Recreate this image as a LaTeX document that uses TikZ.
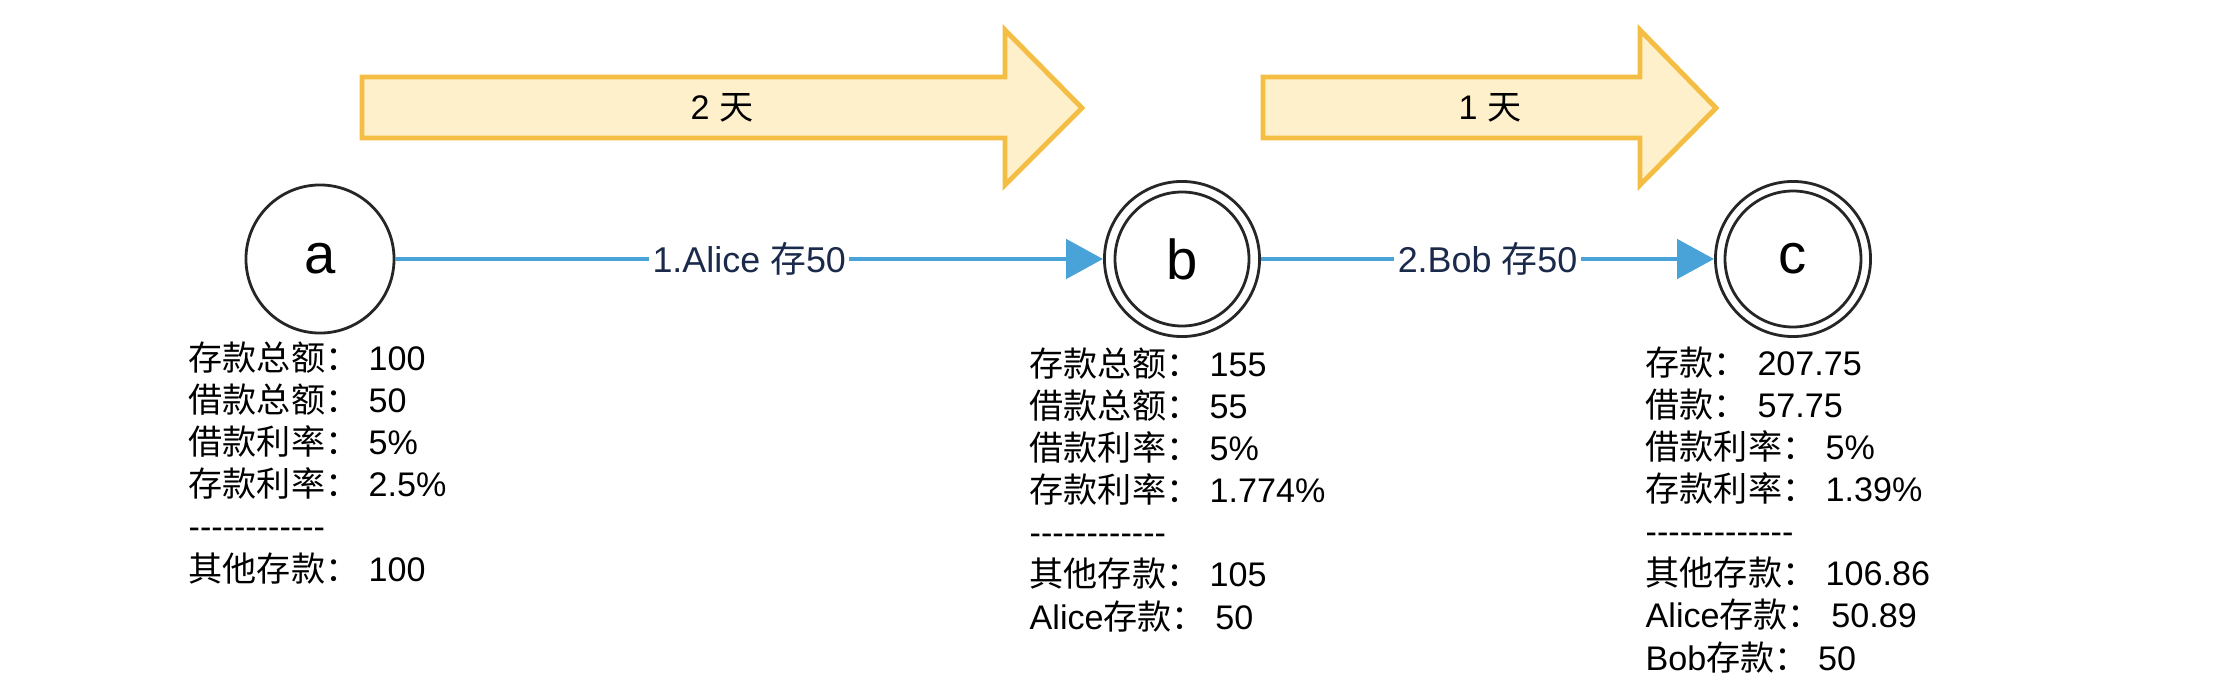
\documentclass[tikz,border=0pt]{standalone}
\usepackage{fontspec}
\setmainfont{Liberation Sans}
\newfontfamily\cjk{Noto Sans CJK SC}
\newcommand\zh[1]{{\cjk #1}}
\usetikzlibrary{arrows.meta}
\definecolor{arrowfill}{HTML}{FFF0CC}
\definecolor{arrowline}{HTML}{F4BE45}
\definecolor{edgeblue}{HTML}{4AA3D8}
\definecolor{navy}{HTML}{1B2A4A}
\begin{document}
\begin{tikzpicture}[x=0.01cm,y=-0.01cm,
  state/.style={circle, draw=black!85, line width=0.8pt, minimum size=1.48cm, inner sep=0pt, font=\fontsize{16}{19}\selectfont},
  accstate/.style={circle, draw=black!85, line width=0.8pt, minimum size=1.55cm, inner sep=0pt, font=\fontsize{16}{19}\selectfont},
  innerring/.style={draw=black!85, line width=0.8pt},
  info/.style={anchor=base west, align=left, inner sep=0pt, font=\fontsize{9.7}{11.95}\selectfont},
  flow/.style={draw=edgeblue, line width=1.4pt, -{Triangle[length=0.37cm,width=0.39cm]}},
  elabel/.style={fill=white, text=navy, inner sep=1pt, font=\fontsize{10.2}{12}\selectfont},
  dayarrow/.style={draw=arrowline, fill=arrowfill, line width=1.4pt},
  daylabel/.style={font=\fontsize{9.7}{12}\selectfont}
]
\useasboundingbox (0,0) rectangle (2220,694);

% day arrows
\draw[dayarrow] (362,77) -- (1005,77) -- (1005,30) -- (1082,108) -- (1005,185) -- (1005,138) -- (362,138) -- cycle;
\node[daylabel] (d1) at (722,108) {2 \zh{天}};
\draw[dayarrow] (1263,77) -- (1640,77) -- (1640,30) -- (1716,108) -- (1640,185) -- (1640,138) -- (1263,138) -- cycle;
\node[daylabel] (d2) at (1490,108) {1 \zh{天}};

% states
\node[state] (a) at (320,259) {a};
\node[accstate] (b) at (1182,259) {b};
\draw[innerring] (b.center) circle[radius=67];
\node[accstate] (c) at (1793,259) {c};
\draw[innerring] (c.center) circle[radius=68];

% transitions
\draw[flow] (a) -- node[elabel] (la) {1.Alice \zh{存}50} (b);
\draw[flow] (b) -- node[elabel] (lb) {2.Bob \zh{存}50} (c);

% info blocks (anchor = baseline of the last line)
\node[info] (ta) at (188,581) {\zh{存款总额：} 100\\
\zh{借款总额：} 50\\
\zh{借款利率：} 5\%\\
\zh{存款利率：} 2.5\%\\
-{}-{}-{}-{}-{}-{}-{}-{}-{}-{}-{}-\\
\zh{其他存款：} 100};

\node[info] (tb) at (1029,629) {\zh{存款总额：} 155\\
\zh{借款总额：} 55\\
\zh{借款利率：} 5\%\\
\zh{存款利率：} 1.774\%\\
-{}-{}-{}-{}-{}-{}-{}-{}-{}-{}-{}-\\
\zh{其他存款：} 105\\
Alice\zh{存款：} 50};

\node[info] (tc) at (1645,670) {\zh{存款：} 207.75\\
\zh{借款：} 57.75\\
\zh{借款利率：} 5\%\\
\zh{存款利率：} 1.39\%\\
-{}-{}-{}-{}-{}-{}-{}-{}-{}-{}-{}-{}-\\
\zh{其他存款：} 106.86\\
Alice\zh{存款：} 50.89\\
Bob\zh{存款：} 50};
\end{tikzpicture}
\end{document}
